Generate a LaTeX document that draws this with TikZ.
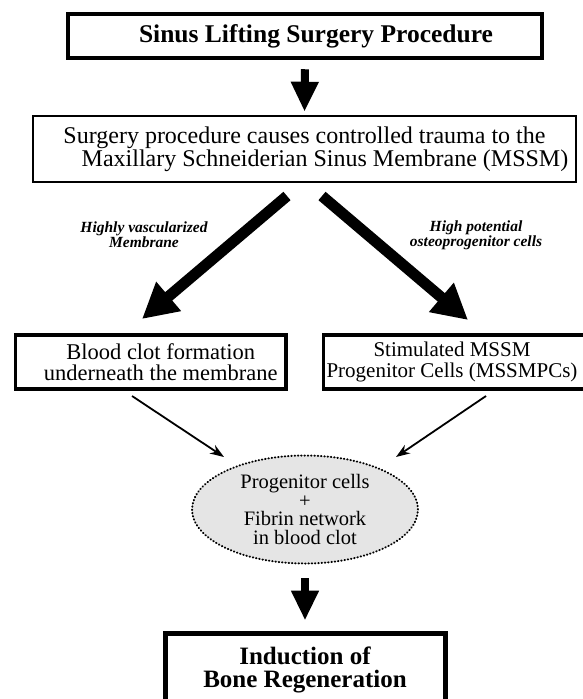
\documentclass[tikz,border=0pt]{standalone}
\usepackage{fontspec}
\setmainfont{Liberation Serif}
\usetikzlibrary{arrows.meta,shapes.geometric}

\begin{document}
\begin{tikzpicture}[x=1pt,y=-1pt,
  boxbase/.style={draw, rectangle, inner sep=0pt, align=center},
  thickbox/.style={boxbase, line width=4.5pt},
  midbox/.style={boxbase, line width=2.5pt},
  clotbox/.style={boxbase, line width=3.5pt},
  bigarrow/.style={line width=8pt, -{Triangle[length=30pt,width=26pt]}},
  diagarrow/.style={line width=11pt, -{Triangle[length=35pt,width=36pt]}},
  thinarrow/.style={line width=1.8pt, -{Stealth[length=14pt,width=10pt]}},
  sidelabel/.style={align=center, font=\fontsize{15.5}{15}\selectfont\bfseries\itshape}
]
\useasboundingbox (0,0) rectangle (583,699);
\clip (0,0) rectangle (583,699);

% boxes
\node[thickbox, minimum width=474pt, minimum height=44pt,
      font=\fontsize{25.5}{28}\selectfont\bfseries] (top) at (305,36)
      {\hspace*{22pt}Sinus Lifting Surgery Procedure};

\node[midbox, minimum width=543pt, minimum height=66pt,
      font=\fontsize{24}{20}\selectfont] (proc) at (304.5,149)
      {Surgery procedure causes controlled trauma to the\\\hspace*{41pt}Maxillary Schneiderian Sinus Membrane (MSSM)};

\node[clotbox, minimum width=270.5pt, minimum height=54pt,
      font=\fontsize{22.5}{21}\selectfont] (clot) at (150.75,362)
      {\hspace*{20pt}Blood clot formation\\\hspace*{20pt}underneath the membrane};

\node[clotbox, minimum width=266.5pt, minimum height=54pt,
      font=\fontsize{21}{21}\selectfont] (cells) at (456.75,362)
      {Stimulated MSSM\hspace*{9.5pt}\\Progenitor Cells (MSSMPCs)\hspace*{9.5pt}};

\node[ellipse, draw, fill=gray!20, line width=2pt, dash pattern=on 0.5pt off 2.8pt,
      line cap=round, minimum width=226pt, minimum height=108pt, inner sep=0pt,
      align=center, font=\fontsize{20.5}{18.5}\selectfont] (ell) at (305,509.5)
      {Progenitor cells\\+\\Fibrin network\\in blood clot};

\node[boxbase, line width=5pt, minimum width=280pt, minimum height=73pt,
      font=\fontsize{25}{23}\selectfont\bfseries] (bone) at (305,670)
      {Induction of\\Bone Regeneration};

% side labels
\node[sidelabel] (lab1) at (144,235) {Highly vascularized\\Membrane};
\node[sidelabel] (lab2) at (476,235) {High potential\\osteoprogenitor cells};

% connector end points
\coordinate (dLs) at (287,196);
\coordinate (dLe) at (142,319);
\coordinate (dRs) at (322,196);
\coordinate (dRe) at (468,320);
\coordinate (tLs) at (132,396);
\coordinate (tLe) at (224,457);
\coordinate (tRs) at (486,396);
\coordinate (tRe) at (396,457);

% connectors
\draw[bigarrow, shorten <=9pt, shorten >=3pt] (top.south) -- (proc.north);
\draw[diagarrow] (dLs) -- (dLe);
\draw[diagarrow] (dRs) -- (dRe);
\draw[thinarrow] (tLs) -- (tLe);
\draw[thinarrow] (tRs) -- (tRe);
\draw[bigarrow, shorten <=13.5pt, shorten >=10.5pt] (ell.south) -- (bone.north);
\end{tikzpicture}
\end{document}
